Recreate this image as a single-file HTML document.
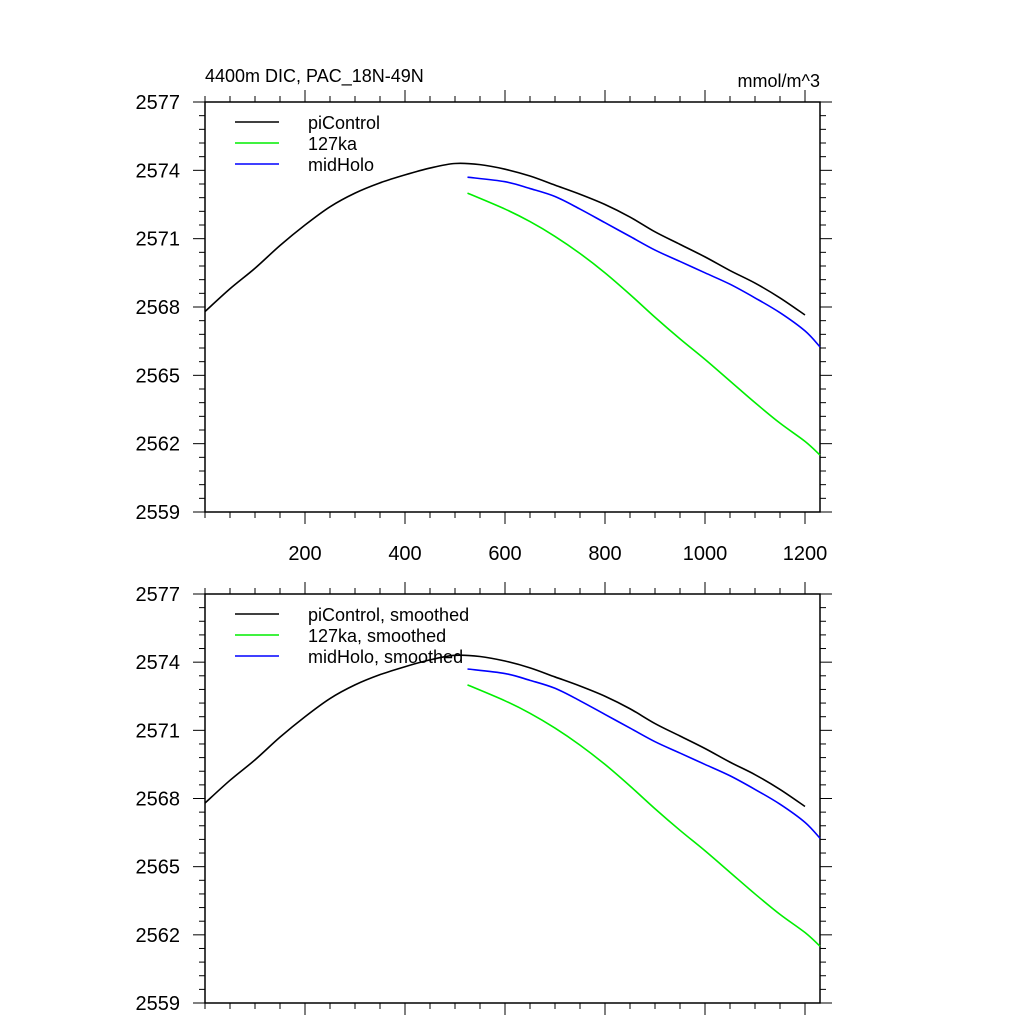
<!DOCTYPE html>
<html><head><meta charset="utf-8"><style>
body{margin:0;background:#fff;}
svg text{font-family:"Liberation Sans",Arial,sans-serif;}
</style></head><body>
<svg id="chart" width="1024" height="1024" xmlns="http://www.w3.org/2000/svg"></svg>
<script>
const xPi=[0,50,100,150,200,250,300,350,400,450,500,550,600,650,700,750,800,850,900,950,1000,1050,1100,1150,1200];
const yPi=[2567.8,2568.8,2569.7,2570.7,2571.6,2572.4,2573.0,2573.45,2573.8,2574.1,2574.3,2574.25,2574.05,2573.75,2573.35,2572.95,2572.5,2571.95,2571.3,2570.75,2570.2,2569.6,2569.05,2568.4,2567.65];
const xHolo=[525,600,650,700,750,800,850,900,950,1000,1050,1100,1150,1200,1230];
const yHolo=[2573.7,2573.5,2573.2,2572.85,2572.3,2571.7,2571.1,2570.5,2570.0,2569.5,2569.0,2568.4,2567.75,2566.95,2566.25];
const x127=[525,600,650,700,750,800,850,900,950,1000,1050,1100,1150,1200,1230];
const y127=[2573.0,2572.3,2571.75,2571.1,2570.35,2569.5,2568.55,2567.55,2566.6,2565.7,2564.75,2563.8,2562.9,2562.1,2561.5];
const yTicks=[2559,2562,2565,2568,2571,2574,2577];
const xTicks=[200,400,600,800,1000,1200];
const NS="http://www.w3.org/2000/svg";
const svg=document.getElementById('chart');
function mk(t,a,p){const e=document.createElementNS(NS,t);for(const k in a)e.setAttribute(k,a[k]);(p||svg).appendChild(e);return e;}
const L=205,R=820;
const sx=v=>L+(v)*(R-L)/1230;
function smoothPath(pts){
  let d='M'+pts[0][0]+','+pts[0][1];
  for(let i=0;i<pts.length-1;i++){
    const p0=pts[Math.max(0,i-1)],p1=pts[i],p2=pts[i+1],p3=pts[Math.min(pts.length-1,i+2)];
    const c1x=p1[0]+(p2[0]-p0[0])/6,c1y=p1[1]+(p2[1]-p0[1])/6;
    const c2x=p2[0]-(p3[0]-p1[0])/6,c2y=p2[1]-(p3[1]-p1[1])/6;
    d+=' C'+c1x+','+c1y+' '+c2x+','+c2y+' '+p2[0]+','+p2[1];
  }
  return d;
}
function panel(top,bot,suffix,showX,idx){
  const g=mk('g',{});
  
  
  const sy=v=>bot-(v-2559)*(bot-top)/18;
  const fr=mk('rect',{x:L,y:top,width:R-L,height:bot-top,fill:'none',stroke:'#000','stroke-width':1.5},g);
  
  
  for(let v=2559;v<=2577.001;v+=0.6){
    const maj=Math.abs((v-2559)/3-Math.round((v-2559)/3))<0.01;const len=maj?12:6;const y=sy(v);
    mk('line',{x1:L-len,x2:L,y1:y,y2:y,stroke:'#000'},g);
    mk('line',{x1:R,x2:R+len,y1:y,y2:y,stroke:'#000'},g);
  }
  yTicks.forEach(v=>{const t=mk('text',{x:L-25,y:sy(v)+7,'text-anchor':'end','font-size':20},g);t.textContent=v;
    });
  for(let v=0;v<=1230;v+=50){const maj=v%200===0&&v>0;const len=maj?12:6;const x=sx(v);
    mk('line',{x1:x,x2:x,y1:top-len,y2:top,stroke:'#000'},g);
    mk('line',{x1:x,x2:x,y1:bot,y2:bot+len,stroke:'#000'},g);}
  if(showX)xTicks.forEach(v=>{const t=mk('text',{x:sx(v),y:bot+48,'text-anchor':'middle','font-size':20},g);t.textContent=v;
    });
  const series=[[xPi,yPi,'#000','piControl'],[x127,y127,'#00ee00','127ka'],[xHolo,yHolo,'#0000ff','midHolo']];
  series.forEach((s,i)=>{
    const p=mk('path',{d:smoothPath(s[0].map((x,j)=>[sx(x),sy(s[1][j])])),fill:'none',stroke:s[2],'stroke-width':1.6},g);
    
    const ly=top+20+i*21;
    const ll=mk('line',{x1:235,x2:279,y1:ly,y2:ly,stroke:s[2],'stroke-width':1.5},g);
    
    const lt=mk('text',{x:308,y:ly+7,'font-size':18},g);lt.textContent=s[3]+suffix;
    
  });
}
panel(102,512,'',true,1);
panel(594,1003,', smoothed',false,2);
const t1=mk('text',{x:205,y:82,'font-size':18});t1.textContent='4400m DIC, PAC_18N-49N';

const t2=mk('text',{x:820,y:87,'font-size':18,'text-anchor':'end'});t2.textContent='mmol/m^3';

</script>
</body></html>
